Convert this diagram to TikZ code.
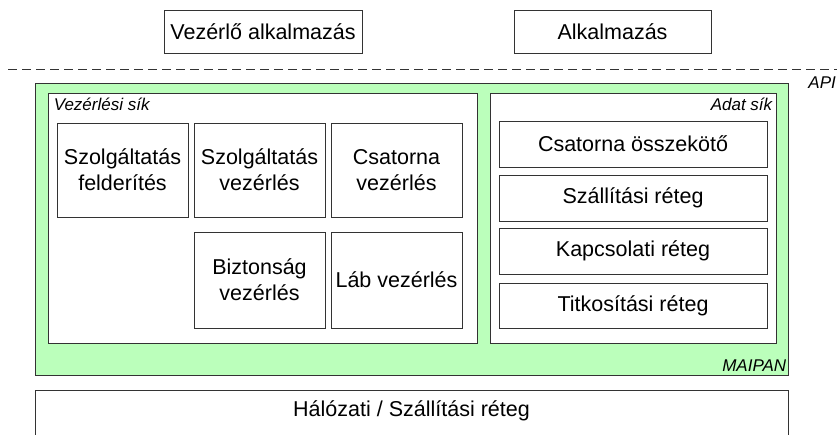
\documentclass[tikz,border=0pt]{standalone}
\usepackage{fontspec}
\setmainfont{Liberation Sans}
\definecolor{maipangreen}{RGB}{187,255,187}

\begin{document}
\begin{tikzpicture}[
		x=1pt,y=-1pt,
		every node/.style={inner sep=0pt,font=\fontsize{21.5}{26}\selectfont},
		box/.style={draw=black!80,line width=0.8pt,fill=white,align=center},
		plane/.style={draw=black!80,line width=0.8pt,fill=white},
		tag/.style={font=\fontsize{17}{20}\selectfont\itshape},
		comp/.style={box,minimum width=131pt,minimum height=94pt},
		layer/.style={box,minimum width=268pt,minimum height=46pt},
	]
	\clip (0,0) rectangle (837,434);
	% applications
	\node[box,minimum width=198pt,minimum height=43pt] (ctrlapp) at (263,31.5) {Vezérlő alkalmazás};
	\node[box,minimum width=197pt,minimum height=43pt] (app) at (612.5,31.5) {Alkalmazás};
	% API line
	\coordinate (apileft) at (8,69);
	\coordinate (apiright) at (837,69);
	\draw[black!80,line width=0.8pt,dash pattern=on 9pt off 5pt] (apileft) -- (apiright);
	\node[tag,anchor=north east] (api) at (836,77) {API};
	% MAIPAN
	\node[draw=black!80,line width=0.8pt,fill=maipangreen,minimum width=753pt,minimum height=292pt] (maipan) at (411.5,229) {};
	\node[tag,anchor=south east] (maipanlabel) at ([xshift=-2pt,yshift=4pt]maipan.south east) {MAIPAN};
	% control plane
	\node[plane,minimum width=429pt,minimum height=250pt] (ctrlplane) at (262.5,218) {};
	\node[tag,anchor=north west] (ctrllabel) at ([xshift=6pt,yshift=-5pt]ctrlplane.north west) {Vezérlési sík};
	\node[comp] (discovery) at (122.5,170) {Szolgáltatás\\felderítés};
	\node[comp] (servctrl) at (259.5,170) {Szolgáltatás\\vezérlés};
	\node[comp] (chanctrl) at (396.5,170) {Csatorna\\vezérlés};
	\node[comp,minimum height=96pt] (secctrl) at (259.5,280) {Biztonság\\vezérlés};
	\node[comp,minimum height=96pt] (legctrl) at (396.5,280) {Láb vezérlés};
	% data plane
	\node[plane,minimum width=286pt,minimum height=250pt] (dataplane) at (633,218) {};
	\node[tag,anchor=north east] (datalabel) at ([xshift=-4pt,yshift=-5pt]dataplane.north east) {Adat sík};
	\node[layer] (chanconn) at (633,144) {Csatorna összekötő};
	\node[layer] (transport) at (633,198) {Szállítási réteg};
	\node[layer] (link) at (633,251) {Kapcsolati réteg};
	\node[layer,minimum height=45pt] (crypto) at (633,305.5) {Titkosítási réteg};
	% network
	\node[box,minimum width=753pt,minimum height=50pt] (network) at (411.5,415) {};
	\node (networktext) at ([yshift=4pt]network.center) {Hálózati / Szállítási réteg};
\end{tikzpicture}
\end{document}
